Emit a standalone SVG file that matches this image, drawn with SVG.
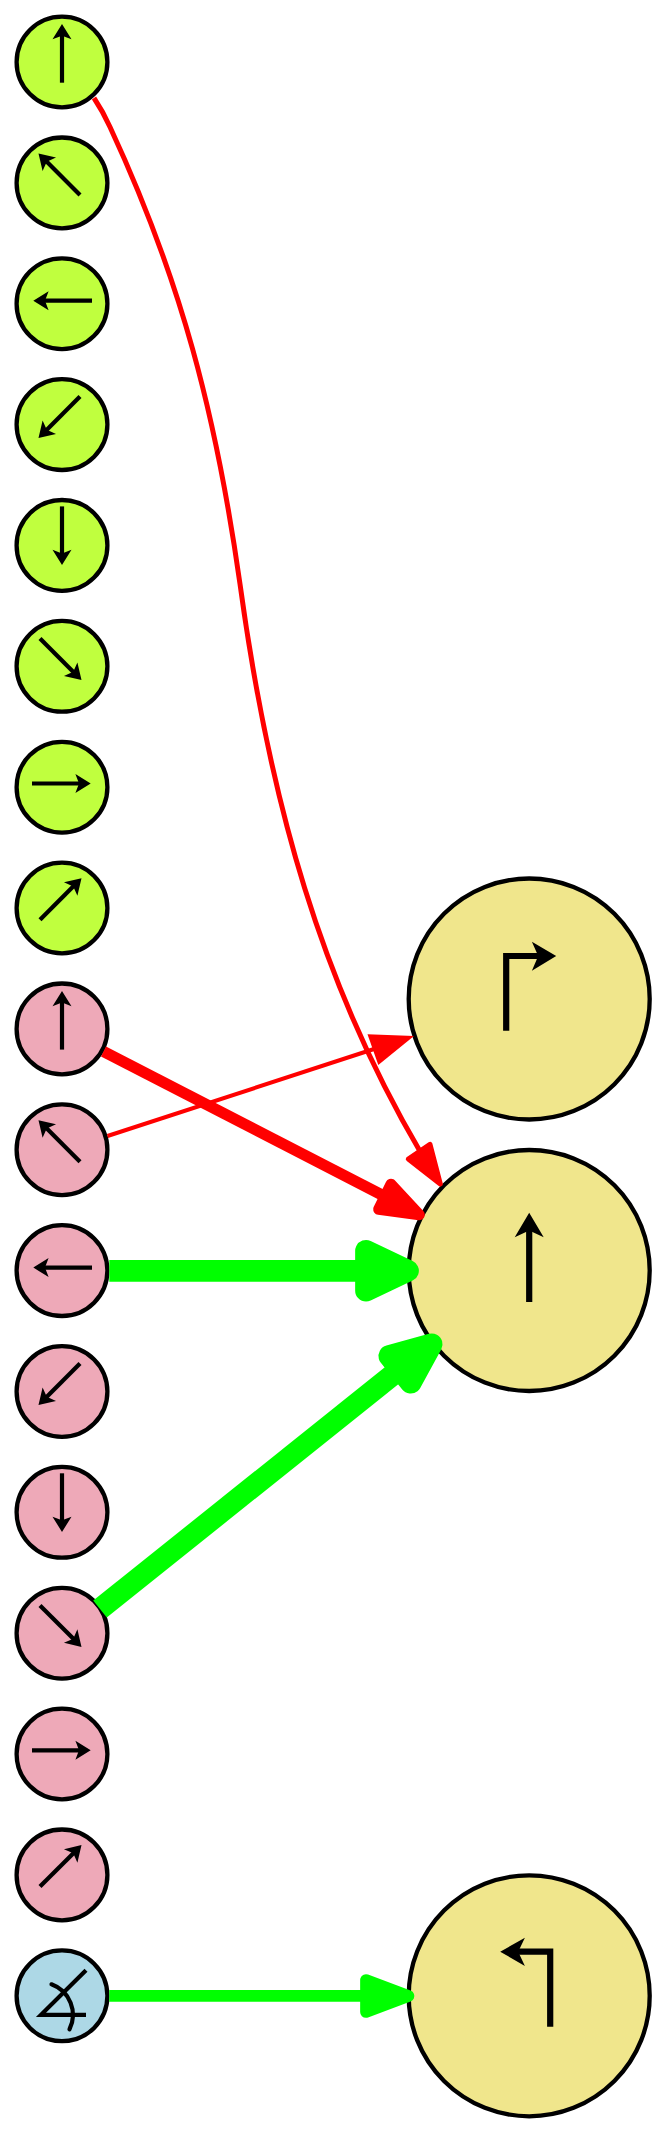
<svg xmlns="http://www.w3.org/2000/svg" width="667" height="2133" viewBox="0 0 667 2133">
<style>
.n{stroke:#000;stroke-width:4.3}
.g{fill:#C0FF3E}.p{fill:#EEA9B8}.b{fill:#ADD8E6}.k{fill:#F0E68C}
.s{fill:none;stroke:#000;stroke-width:4.2}
.h{fill:#000}
.t{fill:none;stroke:#000;stroke-width:6.2}
.red{fill:none;stroke:#f00}.rh{fill:#f00;stroke:#f00;stroke-linejoin:round}
.grn{fill:none;stroke:#0f0}.gh{fill:#0f0;stroke:#0f0;stroke-linejoin:round}
</style>
<defs>
<circle id="c" r="45.4" class="n"/>
<circle id="C" r="120.5" class="n"/>
<g id="a"><path class="s" d="M0 0H49"/><path class="h" d="M58.7 0L43.4-9.5L47 0L43.4 9.5Z"/></g>
</defs>
<rect width="667" height="2133" fill="#fff"/>
<g id="nodes">
<g id="g1" transform="translate(62 62)"><use href="#c" class="g"/><use href="#a" transform="translate(0 20.7) rotate(-90)"/></g>
<g id="g2" transform="translate(62 182.9)"><use href="#c" class="g"/><use href="#a" transform="translate(18 12) rotate(-135)"/></g>
<g id="g3" transform="translate(62 303.7)"><use href="#c" class="g"/><use href="#a" transform="translate(30 -3) rotate(180)"/></g>
<g id="g4" transform="translate(62 424.6)"><use href="#c" class="g"/><use href="#a" transform="translate(18 -28) rotate(135)"/></g>
<g id="g5" transform="translate(62 545.4)"><use href="#c" class="g"/><use href="#a" transform="translate(0 -39) rotate(90)"/></g>
<g id="g6" transform="translate(62 666.3)"><use href="#c" class="g"/><use href="#a" transform="translate(-22 -27.8) rotate(45)"/></g>
<g id="g7" transform="translate(62 787.2)"><use href="#c" class="g"/><use href="#a" transform="translate(-30 -3.7)"/></g>
<g id="g8" transform="translate(62 908)"><use href="#c" class="g"/><use href="#a" transform="translate(-22 11.7) rotate(-45)"/></g>
<g id="p1" transform="translate(62 1028.9)"><use href="#c" class="p"/><use href="#a" transform="translate(0 20.7) rotate(-90)"/></g>
<g id="p2" transform="translate(62 1149.7)"><use href="#c" class="p"/><use href="#a" transform="translate(18 12) rotate(-135)"/></g>
<g id="p3" transform="translate(62 1270.6)"><use href="#c" class="p"/><use href="#a" transform="translate(30 -3) rotate(180)"/></g>
<g id="p4" transform="translate(62 1391.5)"><use href="#c" class="p"/><use href="#a" transform="translate(18 -28) rotate(135)"/></g>
<g id="p5" transform="translate(62 1512.3)"><use href="#c" class="p"/><use href="#a" transform="translate(0 -39) rotate(90)"/></g>
<g id="p6" transform="translate(62 1633.2)"><use href="#c" class="p"/><use href="#a" transform="translate(-22 -27.8) rotate(45)"/></g>
<g id="p7" transform="translate(62 1754)"><use href="#c" class="p"/><use href="#a" transform="translate(-30 -3.7)"/></g>
<g id="p8" transform="translate(62 1874.9)"><use href="#c" class="p"/><use href="#a" transform="translate(-22 11.7) rotate(-45)"/></g>
<g id="angle" transform="translate(62 1995.8)"><use href="#c" class="b"/>
<path class="s" d="M24-25.5L-21 19H24" stroke-miterlimit="4"/>
<path class="s" stroke-linecap="round" d="M-10.5-11.5A32.5 32.5 0 0 1 7.5 33.5"/></g>
<g id="right" transform="translate(529.200 999)"><use href="#C" class="k"/>
<path class="t" d="M-23 31.700V-43H15"/><path class="h" d="M27-43L2.700-57.300L9-43L2.700-28.300Z"/></g>
<g id="up" transform="translate(529.200 1270.500)"><use href="#C" class="k"/>
<path class="t" d="M0 31.500V-45"/><path class="h" d="M0-57.800L-14.500-33.200L0-40L14.500-33.200Z"/></g>
<g id="left" transform="translate(529.200 1995.800)"><use href="#C" class="k"/>
<path class="t" d="M21 30.900V-44.100H-16"/><path class="h" d="M-29-44.100L-4.300-58.100L-11-44.100L-4.300-29.800Z"/></g>
</g>
<g id="connectors">
<path class="red" stroke-width="5" d="M94 98C100 107 105 116 110 127C181 280 216 414 240 584C270 804 322 985 421 1153"/>
<path class="rh" stroke-width="5" d="M440.300 1184L408.300 1159L430 1144.300Z"/>
<path class="red" stroke-width="11" d="M103.500 1051.500L384 1196"/>
<path class="rh" stroke-width="11" d="M419.300 1214.700L378.700 1209.300L391 1184.300Z"/>
<path class="red" stroke-width="4" d="M107.500 1136L374 1049"/>
<path style="fill:#f00" d="M414 1036L367.500 1034.300L378.300 1065Z"/>
<path class="grn" stroke-width="21.700" d="M109.300 1270.800H370"/>
<path class="gh" stroke-width="21.700" d="M408 1270.800L366 1250.800V1290.700Z"/>
<path class="grn" stroke-width="21.700" d="M100 1609L400 1369"/>
<path class="gh" stroke-width="21.700" d="M431.700 1344.300L389.300 1356L410.700 1382.700Z"/>
<path class="grn" stroke-width="11.700" d="M109.300 1995.800H370"/>
<path class="gh" stroke-width="11.700" d="M408.500 1996L366 1980V2012Z"/>
</g>
</svg>
